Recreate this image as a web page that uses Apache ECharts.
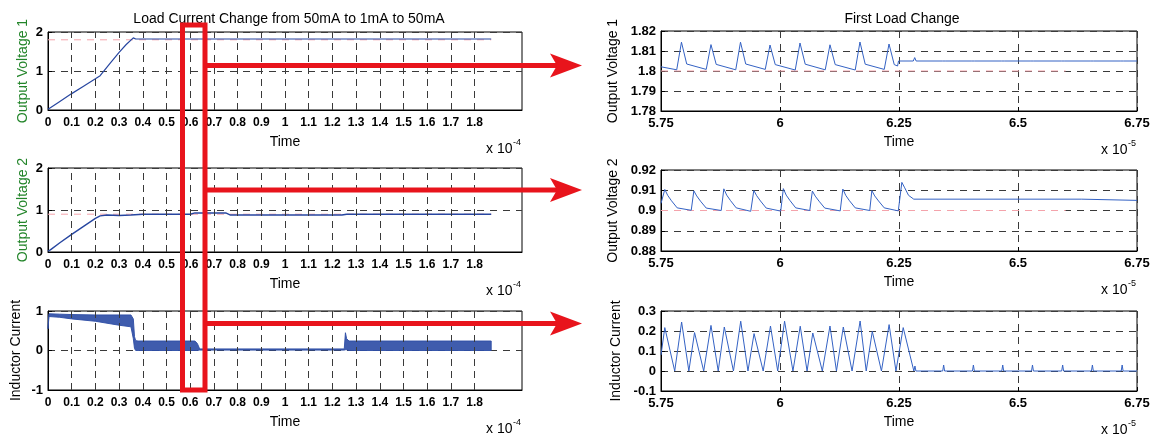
<!DOCTYPE html>
<html>
<head>
<meta charset="utf-8">
<script src="https://cdn.jsdelivr.net/npm/echarts@6/dist/echarts.min.js"></script>
<style>
  html, body { margin: 0; padding: 0; background: #fff; }
  #chart { width: 1159px; height: 445px; }
</style>
</head>
<body>
<div id="chart"></div>
<script>
// ---------------- data ----------------
// Overview plots: time in units of 1e-4 s
const overviewTicks = [0, 0.1, 0.2, 0.3, 0.4, 0.5, 0.6, 0.7, 0.8, 0.9, 1, 1.1, 1.2, 1.3, 1.4, 1.5, 1.6, 1.7, 1.8];

const ovTime1 = [0, 0.01, 0.05, 0.1, 0.15, 0.2, 0.22, 0.26, 0.3, 0.33, 0.36, 0.37, 0.6, 1.0, 1.25, 1.5, 1.87];
const ovVout1 = [0.02, 0.06, 0.22, 0.42, 0.61, 0.8, 0.88, 1.18, 1.48, 1.68, 1.85, 1.82, 1.82, 1.82, 1.82, 1.82, 1.82];
const ovRef1 = 1.8;

const ovTime2 = [0, 0.01, 0.05, 0.1, 0.15, 0.2, 0.22, 0.25, 0.3, 0.35, 0.4, 0.6, 0.62, 0.75, 0.77, 1.0, 1.24, 1.26, 1.5, 1.87];
const ovVout2 = [0.02, 0.05, 0.22, 0.42, 0.61, 0.8, 0.86, 0.88, 0.87, 0.88, 0.9, 0.9, 0.93, 0.93, 0.88, 0.88, 0.88, 0.9, 0.9, 0.9];
const ovRef2 = 0.9;

// inductor current switching band (upper / lower envelope)
const bandTime  = [0, 0.004, 0.05, 0.1, 0.2, 0.3, 0.35, 0.36, 0.365, 0.37, 0.38, 0.5, 0.62, 0.63, 0.64, 1.0, 1.25, 1.255, 1.26, 1.27, 1.5, 1.87];
const bandUpper = [0.6, 0.93, 0.92, 0.91, 0.9, 0.9, 0.9, 0.8, 0.35, 0.25, 0.24, 0.24, 0.24, 0.18, 0.04, 0.04, 0.04, 0.45, 0.3, 0.24, 0.24, 0.24];
const bandLower = [0.55, 0.86, 0.84, 0.8, 0.74, 0.64, 0.6, 0.3, 0.05, 0, 0, 0, 0, 0, 0.01, 0.01, 0.01, 0.02, 0.02, 0, 0, 0];

// Detail plots: time in units of 1e-5 s
const dtTime1 = [5.75, 5.783, 5.793, 5.804, 5.845, 5.855, 5.866, 5.907, 5.917, 5.928, 5.969, 5.979, 5.990,
  6.032, 6.042, 6.053, 6.095, 6.105, 6.116, 6.158, 6.168, 6.179, 6.219, 6.229, 6.240, 6.247, 6.249,
  6.280, 6.283, 6.286, 6.341, 6.344, 6.347, 6.403, 6.406, 6.409, 6.465, 6.468, 6.471,
  6.527, 6.530, 6.533, 6.591, 6.594, 6.597, 6.653, 6.656, 6.659, 6.716, 6.719, 6.722, 6.75];
const dtVout1 = [1.8021, 1.8006, 1.8144, 1.8035, 1.8008, 1.8132, 1.8033, 1.8006, 1.8144, 1.8035, 1.8008, 1.8130, 1.8032,
  1.8005, 1.8140, 1.8034, 1.8006, 1.8131, 1.8032, 1.8005, 1.8145, 1.8034, 1.8008, 1.8135, 1.8032, 1.8025, 1.8050,
  1.8050, 1.8067, 1.8050, 1.8050, 1.8059, 1.8050, 1.8050, 1.8058, 1.8050, 1.8050, 1.8058, 1.8050,
  1.8050, 1.8059, 1.8050, 1.8050, 1.8059, 1.8050, 1.8050, 1.8058, 1.8050, 1.8050, 1.8059, 1.8050, 1.8050];
const dtRef1 = 1.8;

const dtTime2 = [5.75, 5.758, 5.764, 5.772, 5.784,
  5.8135, 5.819, 5.825, 5.833, 5.845,
  5.8765, 5.882, 5.888, 5.896, 5.908,
  5.9385, 5.945, 5.951, 5.959, 5.971,
  6.0015, 6.007, 6.013, 6.021, 6.033,
  6.0625, 6.068, 6.074, 6.082, 6.094,
  6.1265, 6.132, 6.138, 6.146, 6.158,
  6.1885, 6.193, 6.199, 6.207, 6.219,
  6.2485, 6.256, 6.262, 6.270, 6.281,
  6.634, 6.636, 6.75];
const dtVout2 = [0.9035, 0.9104, 0.9075, 0.9048, 0.9013,
  0.9001, 0.9097, 0.9072, 0.9046, 0.9012,
  0.9000, 0.9107, 0.9076, 0.9049, 0.9013,
  0.8996, 0.9099, 0.9073, 0.9047, 0.9012,
  0.8997, 0.9108, 0.9076, 0.9049, 0.9013,
  0.9000, 0.9096, 0.9071, 0.9046, 0.9012,
  0.8998, 0.9106, 0.9075, 0.9048, 0.9013,
  0.9000, 0.9098, 0.9072, 0.9047, 0.9013,
  0.8998, 0.9139, 0.9112, 0.9075, 0.9056,
  0.9056, 0.9050, 0.9050];
const dtRef2 = 0.9;
const dtRefEnd = 6.6;

const dtTime3 = [5.75, 5.758, 5.7788, 5.7933, 5.8085, 5.8205, 5.8397, 5.855, 5.8702, 5.883, 5.9022,
  5.9175, 5.9327, 5.9455, 5.9647, 5.98, 5.9952, 6.0096, 6.0272, 6.0425, 6.0569, 6.0689,
  6.0889, 6.105, 6.1186, 6.133, 6.1514, 6.1683, 6.1811, 6.1939, 6.2131, 6.2292, 6.2436,
  6.2588, 6.2812, 6.2835, 6.2855,
  6.3418, 6.3438, 6.3458, 6.4043, 6.4063, 6.4083, 6.4659, 6.4679, 6.4699,
  6.5284, 6.5304, 6.5324, 6.5918, 6.5938, 6.5958, 6.6543, 6.6563, 6.6583,
  6.7168, 6.7188, 6.7208, 6.75];
const dtCurrent = [0.08, 0.217, 0, 0.245, 0, 0.192, 0, 0.228, 0, 0.22, 0,
  0.249, 0, 0.187, 0, 0.225, 0, 0.249, 0, 0.224, 0, 0.19,
  0, 0.225, 0, 0.22, 0, 0.25, 0, 0.198, 0, 0.232, 0,
  0.217, 0, 0.025, 0,
  0, 0.03, 0, 0, 0.03, 0, 0, 0.03, 0,
  0, 0.03, 0, 0, 0.03, 0, 0, 0.03, 0,
  0, 0.03, 0, 0];

// ---------------- layout & style ----------------
const FONT = '"Liberation Sans", Arial, Helvetica, sans-serif';
const BLUE_L = '#2746a0';
const BLUE_R = '#3462c4';
const PINK = '#f4a3ab';
const GRIDDASH = '#3a3a3a';

const grids = [
  { left: 48, top: 32, width: 474, height: 78 },
  { left: 48, top: 168, width: 474, height: 84 },
  { left: 48, top: 311, width: 474, height: 79 },
  { left: 661, top: 31, width: 476, height: 80 },
  { left: 661, top: 170, width: 476, height: 81 },
  { left: 661, top: 311, width: 476, height: 80 }
];

const zip = (a, b) => a.map((t, i) => [t, b[i]]);

function leftX(i) {
  return {
    gridIndex: i, type: 'value', min: 0, max: 2, interval: 0.1,
    name: 'Time', nameLocation: 'middle', nameGap: 25,
    nameTextStyle: { fontSize: 14, color: '#000', fontFamily: FONT },
    axisLine: { show: true, onZero: false, lineStyle: { color: '#000' } },
    axisTick: { show: false },
    axisLabel: {
      fontSize: 12, fontWeight: 'bold', color: '#000', fontFamily: FONT, margin: 7,
      formatter: v => (v > 1.85 ? '' : String(Math.round(v * 10) / 10))
    },
    splitLine: { show: false }
  };
}
function rightX(i) {
  return {
    gridIndex: i, type: 'value', min: 5.75, max: 6.75, interval: 0.25,
    name: 'Time', nameLocation: 'middle', nameGap: 24,
    nameTextStyle: { fontSize: 14, color: '#000', fontFamily: FONT },
    axisLine: { show: true, onZero: false, lineStyle: { color: '#000' } },
    axisTick: { show: true, inside: true, length: 4, lineStyle: { color: '#000' } },
    axisLabel: { fontSize: 13, fontWeight: 'bold', color: '#000', fontFamily: FONT, margin: 6 },
    splitLine: { show: true, lineStyle: { color: GRIDDASH, type: [7, 6], width: 1 } }
  };
}
function yAx(i, min, max, interval, name, nameColor, nameGap) {
  return {
    gridIndex: i, type: 'value', min, max, interval,
    name, nameLocation: 'middle', nameGap,
    nameTextStyle: { fontSize: 14, color: nameColor, fontFamily: FONT },
    axisLine: { show: true, onZero: false, lineStyle: { color: '#000' } },
    axisTick: { show: true, inside: true, length: 4, lineStyle: { color: '#000' } },
    axisLabel: { fontSize: 13, fontWeight: 'bold', color: '#000', fontFamily: FONT, margin: 5 },
    splitLine: { show: true, lineStyle: { color: GRIDDASH, type: [7, 6], width: 1 } }
  };
}

const GREEN = '#23852a';

const xAxes = [leftX(0), leftX(1), leftX(2), rightX(3), rightX(4), rightX(5)];
const yAxes = [
  yAx(0, 0, 2, 1, 'Output Voltage 1', GREEN, 18),
  yAx(1, 0, 2, 1, 'Output Voltage 2', GREEN, 18),
  yAx(2, -1, 1, 1, 'Inductor Current', '#000', 25),
  yAx(3, 1.78, 1.82, 0.01, 'Output Voltage 1', '#000', 41),
  yAx(4, 0.88, 0.92, 0.01, 'Output Voltage 2', '#000', 41),
  yAx(5, -0.1, 0.3, 0.1, 'Inductor Current', '#000', 38)
];

// vertical dashed grid of the overview plots, one line per labelled tick
function overviewGrid(i) {
  return {
    type: 'line', xAxisIndex: i, yAxisIndex: i, data: [], silent: true,
    markLine: {
      silent: true, symbol: 'none', label: { show: false }, animation: false,
      lineStyle: { color: GRIDDASH, type: [7, 5], width: 1 },
      data: overviewTicks.filter(t => t > 0).map(t => ({ xAxis: t }))
    }
  };
}
function lineSeries(i, data, color, width, z) {
  return {
    type: 'line', xAxisIndex: i, yAxisIndex: i, data, showSymbol: false, symbol: 'none',
    lineStyle: { color, width }, z: z || 3, silent: true, animation: false
  };
}
function refSeries(i, t0, t1, v) {
  return {
    type: 'line', xAxisIndex: i, yAxisIndex: i, data: [[t0, v], [t1, v]],
    showSymbol: false, symbol: 'none', silent: true, z: 2,
    lineStyle: { color: PINK, width: 1, type: [7, 6] }
  };
}

const series = [
  overviewGrid(0), overviewGrid(1), overviewGrid(2),
  refSeries(0, 0, 1.87, ovRef1),
  refSeries(1, 0, 1.87, ovRef2),
  lineSeries(0, zip(ovTime1, ovVout1), BLUE_L, 1.2),
  lineSeries(1, zip(ovTime2, ovVout2), BLUE_L, 1.4),
  {
    type: 'custom', xAxisIndex: 2, yAxisIndex: 2, silent: true, z: 3,
    data: bandTime.map((t, k) => [t, bandUpper[k], bandLower[k]]),
    encode: { x: 0, y: [1, 2] },
    renderItem: (params, api) => {
      if (params.dataIndex !== 0) return null;
      const up = bandTime.map((t, k) => api.coord([t, bandUpper[k]]));
      const lo = bandTime.map((t, k) => api.coord([t, bandLower[k]])).reverse();
      return {
        type: 'polygon',
        shape: { points: up.concat(lo) },
        style: { fill: '#2f4ea6', stroke: '#2f4ea6', lineWidth: 1, opacity: 0.92 }
      };
    }
  },
  refSeries(3, 5.75, dtRefEnd, dtRef1),
  refSeries(4, 5.75, dtRefEnd, dtRef2),
  lineSeries(3, zip(dtTime1, dtVout1), BLUE_R, 1),
  lineSeries(4, zip(dtTime2, dtVout2), BLUE_R, 1),
  lineSeries(5, zip(dtTime3, dtCurrent), BLUE_R, 1)
];

// "x 10^n" exponent captions under each time axis
function exponentLabel(g, exp) {
  const right = g.left + g.width;
  const cy = g.top + g.height + 39;
  return [
    { type: 'text', x: right - 36, y: cy, z: 10, silent: true,
      style: { text: 'x 10', fontSize: 14, fontFamily: FONT, fill: '#000', verticalAlign: 'middle', align: 'left' } },
    { type: 'text', x: right - 9, y: cy - 6, z: 10, silent: true,
      style: { text: exp, fontSize: 9, fontFamily: FONT, fill: '#000', verticalAlign: 'middle', align: 'left' } }
  ];
}

// red highlight box over the overview plots and the arrows pointing to the detail plots
const RED = '#e8141c';
function arrow(y) {
  return [
    { type: 'line', z: 20, silent: true, shape: { x1: 205, y1: y, x2: 560, y2: y },
      style: { stroke: RED, lineWidth: 5 } },
    { type: 'polygon', z: 20, silent: true,
      shape: { points: [[582, y], [550, y - 12], [557, y], [550, y + 12]] },
      style: { fill: RED } }
  ];
}

const graphics = []
  .concat(exponentLabel(grids[0], '-4'), exponentLabel(grids[1], '-4'), exponentLabel(grids[2], '-4'))
  .concat(exponentLabel(grids[3], '-5'), exponentLabel(grids[4], '-5'), exponentLabel(grids[5], '-5'))
  .concat([{ type: 'rect', z: 20, silent: true, shape: { x: 182.5, y: 25, width: 22.5, height: 365 },
             style: { fill: 'none', stroke: RED, lineWidth: 5 } }])
  .concat(arrow(65.5), arrow(190), arrow(323.5));

const option = {
  animation: false,
  backgroundColor: '#fff',
  title: [
    { text: 'Load Current Change from 50mA to 1mA to 50mA', left: 284, top: 7, textAlign: 'center',
      textStyle: { fontSize: 14, fontWeight: 'normal', color: '#000', fontFamily: FONT } },
    { text: 'First Load Change', left: 897, top: 7, textAlign: 'center',
      textStyle: { fontSize: 14, fontWeight: 'normal', color: '#000', fontFamily: FONT } }
  ],
  grid: grids.map(g => Object.assign({ show: true, borderColor: '#000', borderWidth: 1, backgroundColor: '#fff' }, g)),
  xAxis: xAxes,
  yAxis: yAxes,
  series,
  graphic: graphics
};

const chart = echarts.init(document.getElementById('chart'), null, { renderer: 'canvas' });
chart.setOption(option);
</script>
</body>
</html>
